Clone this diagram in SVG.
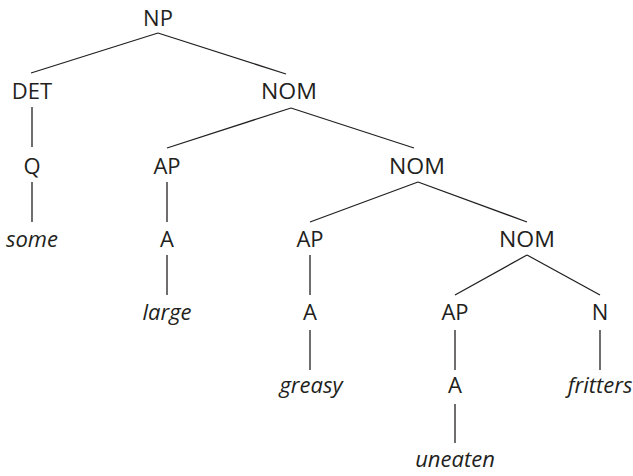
<svg xmlns="http://www.w3.org/2000/svg" width="633" height="476" viewBox="0 0 633 476">
<style>
.t{font-family:"Open Sans","Liberation Sans",sans-serif;font-size:22px;fill:#231f20;text-anchor:middle}
.w{font-style:italic}
.e line{stroke:#231f20;stroke-width:1.3}
</style>
<rect width="633" height="476" fill="#fff"/>
<g id="edges" class="e">
<line x1="158" y1="33" x2="31" y2="73"/>
<line x1="158" y1="33" x2="286" y2="74"/>
<line x1="32" y1="107" x2="32" y2="147"/>
<line x1="32" y1="182" x2="32" y2="222"/>
<line x1="291" y1="108" x2="167" y2="148"/>
<line x1="291" y1="108" x2="414" y2="148"/>
<line x1="167" y1="182" x2="167" y2="222"/>
<line x1="167" y1="255" x2="167" y2="295"/>
<line x1="418" y1="182" x2="310" y2="222"/>
<line x1="418" y1="182" x2="527" y2="222"/>
<line x1="310" y1="255" x2="310" y2="295"/>
<line x1="310" y1="330" x2="310" y2="370"/>
<line x1="527" y1="255" x2="455" y2="295"/>
<line x1="527" y1="255" x2="600" y2="295"/>
<line x1="455" y1="330" x2="455" y2="370"/>
<line x1="455" y1="404" x2="455" y2="443"/>
<line x1="600" y1="330" x2="600" y2="370"/>
</g>
<g id="n-np"><text class="t" x="158" y="26">NP</text></g>
<g id="n-det"><text class="t" x="32" y="99">DET</text></g>
<g id="n-nom1"><text class="t" x="289" y="99" textLength="56" lengthAdjust="spacingAndGlyphs">NOM</text></g>
<g id="n-q"><text class="t" x="32" y="174">Q</text></g>
<g id="n-ap1"><text class="t" x="167" y="174">AP</text></g>
<g id="n-nom2"><text class="t" x="417" y="174" textLength="56" lengthAdjust="spacingAndGlyphs">NOM</text></g>
<g id="n-some"><text class="t w" x="32" y="247">some</text></g>
<g id="n-a1"><text class="t" x="167" y="247">A</text></g>
<g id="n-ap2"><text class="t" x="310" y="247">AP</text></g>
<g id="n-nom3"><text class="t" x="527" y="247" textLength="56" lengthAdjust="spacingAndGlyphs">NOM</text></g>
<g id="n-large"><text class="t w" x="167" y="320">large</text></g>
<g id="n-a2"><text class="t" x="310" y="320">A</text></g>
<g id="n-ap3"><text class="t" x="455" y="320">AP</text></g>
<g id="n-n"><text class="t" x="600" y="320">N</text></g>
<g id="n-greasy"><text class="t w" x="311" y="393">greasy</text></g>
<g id="n-a3"><text class="t" x="455" y="393">A</text></g>
<g id="n-fritters"><text class="t w" x="600" y="393">fritters</text></g>
<g id="n-uneaten"><text class="t w" x="455" y="467">uneaten</text></g>
</svg>
